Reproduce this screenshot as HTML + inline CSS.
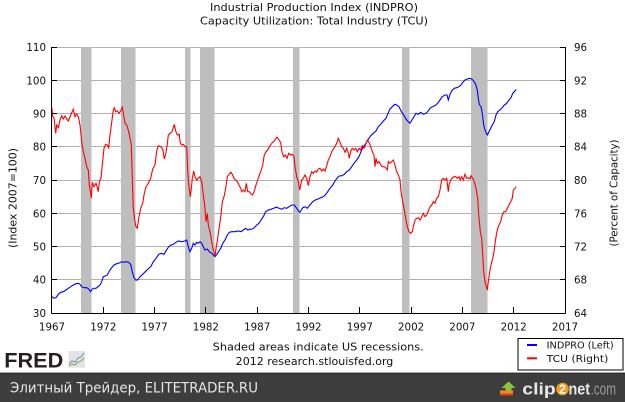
<!DOCTYPE html>
<html>
<head>
<meta charset="utf-8">
<style>
  html, body { margin:0; padding:0; background:#fff; }
  svg { display:block; }
  text { font-family: "DejaVu Sans", "Liberation Sans", "Noto Sans CJK SC", sans-serif; }
</style>
</head>
<body>
<svg width="625" height="402" viewBox="0 0 625 402" xmlns="http://www.w3.org/2000/svg">
  <rect x="0" y="0" width="625" height="402" fill="#ffffff"/>

  <!-- Titles -->
  <text x="314" y="11" font-size="11" text-anchor="middle" fill="#111" textLength="208" lengthAdjust="spacingAndGlyphs">Industrial Production Index (INDPRO)</text>
  <text x="314" y="24.5" font-size="11" text-anchor="middle" fill="#111" textLength="228" lengthAdjust="spacingAndGlyphs">Capacity Utilization: Total Industry (TCU)</text>

  <!-- Gridlines -->
  <g stroke="#b0b0b0" stroke-width="1" shape-rendering="crispEdges">
    <line x1="52" y1="47.5" x2="565" y2="47.5"/>
    <line x1="52" y1="80.5" x2="565" y2="80.5"/>
    <line x1="52" y1="113.5" x2="565" y2="113.5"/>
    <line x1="52" y1="146.5" x2="565" y2="146.5"/>
    <line x1="52" y1="180.5" x2="565" y2="180.5"/>
    <line x1="52" y1="213.5" x2="565" y2="213.5"/>
    <line x1="52" y1="246.5" x2="565" y2="246.5"/>
    <line x1="52" y1="279.5" x2="565" y2="279.5"/>
  </g>

  <!-- Recession bars -->
  <g fill="#bebebe" shape-rendering="crispEdges">
    <rect x="81" y="47" width="10.7" height="266"/>
    <rect x="121" y="47" width="14.7" height="266"/>
    <rect x="185" y="47" width="5.7" height="266"/>
    <rect x="200" y="47" width="14.7" height="266"/>
    <rect x="293" y="47" width="6.7" height="266"/>
    <rect x="402" y="47" width="7.7" height="266"/>
    <rect x="471" y="47" width="16.7" height="266"/>
  </g>

  <!-- Series -->
  <polyline fill="none" stroke="#0000ff" stroke-width="1.1" stroke-linejoin="miter" points="52,296.7 54,298.3 56,297.7 58.3,294.3 60.7,292.3 63.3,291.7 66,290 68.3,288.3 70.7,286.7 73.3,285 76,283.7 78.3,283.3 80,284.3 81.7,286.7 84,287.7 86.7,287.7 88.7,289 90.7,291.7 92,289.3 94,288.3 96,288.3 98,286.7 100,285 101.7,281.7 103.3,276.7 105,276 107.3,275 109.3,271 111.7,267.7 114,265 116.7,263.7 119.3,263 121.7,261.7 124,262.3 126.7,261.7 128.7,262.3 130.7,264.3 132.3,271.7 134,277.7 136,280.3 138,279.7 140,276.7 142.7,274.3 145.3,271.7 148,269 150.7,266.7 153.3,261.7 156,258.3 158.7,254.3 161.3,253.3 164,254.3 166.7,249.7 168.7,246.7 171,245 173.3,244.3 176,242.3 178.3,241 181.7,241.7 185,241 186.7,240 188.3,246.7 190,251.7 191.7,248.3 193.3,243.3 195,245 196.7,242.3 198.3,243.3 200,241.7 201.7,243.3 203.3,246.7 205,250 207.3,249 209.3,251.7 211.7,253.3 213.3,255 215,256.7 216.7,254.3 219,251 221,247.7 222.7,243.3 225,240 227.3,235 229.3,232.3 231.7,231.7 235,231.7 238.3,231 241,231.7 243.3,230 245.7,228.3 247.7,230 250,229.3 252.3,229 254.3,227.7 256.7,225 259,223.3 261,220 263.3,216.7 265.7,211.7 268.3,210 271,209.3 273.7,208.3 276.3,207 279,208.3 281.7,209.3 284.3,207.7 286.7,208.3 289,206.7 291.7,205 294.3,205 296.7,208.3 299,211.7 300,212.3 302.7,207.7 305,206.7 307.3,208.3 310,205 312.7,201.7 315.3,200 318,199 320.7,197.7 323.3,196.7 325.3,195 327.3,192.3 330,188.3 332.7,185 335,181 337.3,177.7 339.3,176 342,175.7 344.3,174.3 346.7,171.7 349.3,170 351.7,166.7 354,163.3 356.7,160 359,156.7 361,151.7 363.3,146.7 366,143.3 368.3,139.3 370.7,135.7 373.3,133.3 376,131 378.3,126.7 380.7,124.3 383.3,121 386,118.3 388,113.3 390,109 392.3,106.7 394.7,104.3 396.7,105 399,106.7 401,111 403.3,114.3 406,119 408.3,121.7 410,123.3 412,120 414,116.7 416,113.3 418.3,114.3 420.7,112.3 423.3,114.3 426,113.3 427.7,111.7 430,108.3 432.3,106.7 435,105.7 437.7,103.3 440,100 442.3,96.7 445,95 447,95 448.3,100 450,94.3 451.7,91 454.3,88.3 456.7,87.7 459,86.7 461,85 462.7,82.3 465,80 467.3,79 469.3,78.3 471.7,79 473.7,81 475.7,84.3 477.3,90 478.3,98.3 479.3,104.3 481,106.7 482.3,113.3 483.7,125 485,130 486.3,133.3 487.3,135 488.7,132.3 490.3,129 492.3,125 494.3,121.7 496,115 497.7,111.7 500,110 502.3,107.7 504.3,105 506.7,103.3 509,100 511,97.7 512.7,93.3 514.3,91.7 516.3,89.3"/>

  <polyline fill="none" stroke="#ff0000" stroke-width="1.1" stroke-linejoin="miter" points="52,108.3 52.7,116.7 54,118 55.7,133.3 56.7,125 58.3,127.7 60,120 61.7,115.7 63.3,119 65,116 66.7,119 68.3,121 70.7,115 73.3,109.3 75,116.7 76.7,114 78.3,116.7 80,125 81.7,141.7 83.3,151.7 85,158.3 86.7,166.7 88.3,170 89.3,185 90.7,193.3 91.3,198.3 92.3,182.3 94,186.7 96,183.3 97.3,187.7 98.3,191.7 99.3,181.7 101,178.3 102.3,165 104,148.3 105.7,144.3 107.3,145 108.7,147.7 110,135 111.7,122.3 113.3,110 114.3,107.7 115.7,111.7 117.3,110.7 119,113.3 120.7,111 122.3,107.3 123.3,113.3 125,123.3 126.7,125 128.3,130 130,137.7 131.3,145 132.3,178.3 133.3,208.3 134.7,220 136,226.7 137.3,228.3 138.7,218.3 140.7,208.3 142.7,203.3 144.3,193.3 146,186.7 148.3,183.3 150.7,178.3 152.7,169 155,165 156.7,151 158.3,145.7 160.7,146.7 162.7,149 164.3,159 165.7,154.3 167.3,144.3 168.3,135 170,133.3 171.7,132.3 173.3,127.7 174.3,124.3 175.7,131 177.3,135 179.3,134.3 180,141.7 181.7,145 183.3,144.3 185,146.7 186.7,146.7 187.7,171.7 189,186.7 190.3,196.7 191,191.7 192.3,178.3 193.7,171 195,176.7 196.7,180 198.3,178.3 200,176.7 201.7,181.7 203.3,195 205,208.3 206,221.7 207.3,213.3 208.3,225 210,231.7 211.7,241.7 213.3,250 215,255.7 216.3,246.7 217.7,238.3 219.3,226.7 221,215 222.3,201.7 224,196.7 225.7,188.3 227.3,176.7 229,174.3 231,172.3 232.3,174.3 234,178.3 235.7,180 237.3,181.7 239,185 240.7,188.3 241.7,191.7 243.3,190 245,191.7 246.3,183.3 247.7,191.7 249.3,191.7 251,194 252.7,195 254.3,191 256,185 257.7,180 259.3,175 261,171 262.7,165 264.3,155 266,151.7 267.7,150 269.3,146.7 271,144.3 272.7,142.3 274.3,141 276,138.3 277.3,137.3 279,140 280.7,142.3 282,152.3 283.7,156.7 285.3,155 287,158.3 288.7,153.3 290.3,155 292.3,154.3 294,156.7 295,166.7 296.7,176.7 298.3,181.7 299.7,190 301.7,180 303.3,178.3 305,175 306.7,178.3 308.3,185.7 310,176.7 311.7,171.7 313.3,173.3 315,171 316.7,172.3 318.3,169 320,168.3 321.7,171 323.3,169 325,171 326.7,165.7 328.3,160 330,156.7 331.7,151.7 333.3,149 335,146.7 336.7,143.3 338.3,138.3 340,142.3 341.7,146.7 343.3,148.3 345,152.3 346.7,148.3 348.3,153.3 349.3,158.3 350.7,151 352.3,148.3 354,150 355.7,148.3 357.3,151.7 359,148.3 360.7,150 362.3,145.7 364,148.3 365.7,144.3 367.3,140 369,142.3 370.7,146.7 372.3,151.7 374,155 375,166.7 376,158.3 377.3,163.3 379,161.7 380.7,165 382.3,166.7 384,166.7 385.7,167.7 387.3,170 388.3,161.7 390,163.3 391.7,161.7 393.3,160 395,165 396.7,171.7 398.3,175 400,180 401,191.7 402.7,201.7 404.3,210 406,220 407.3,226.7 409,231.7 410.7,233.3 412.3,231.7 413.3,226.7 415,220 416.7,218.3 418.3,217.7 420,220 421.7,216.7 423.3,213.3 425,216.7 426.7,215 428.3,211 430,206.7 431.7,205 433.3,201.7 435,203.3 436.7,198.3 438.3,196.7 440,190 441.7,180 443.3,178.3 445,180 446.7,178.3 448.3,191.7 449,185 450.7,180 452.3,178.3 454,176.7 455.7,176.7 457.3,178.3 459,176.7 460.3,180 461.7,176.7 463.3,180 465,174.3 466.7,178.3 468.3,177.7 470,179 471,175.7 472.7,178.3 474.3,181.7 476,188.3 477.7,198.3 478.7,215 479.7,225 480.3,231.7 481.7,238.3 482.7,255 483.7,271.7 485,281.7 486.3,286.7 487.3,290 488.3,281.7 489.7,271.7 491,265 492.7,258.3 494,251.7 495.3,241.7 496.3,235 497.7,228.3 499,225 500.7,221.7 502.3,215 504,211.7 505.7,211.7 507.3,208.3 509,205 510.7,201.7 512.3,198.3 513.3,190 515,188.3 516.3,186.7"/>

  <!-- Axes -->
  <g stroke="#000" stroke-width="1" shape-rendering="crispEdges">
    <line x1="51.5" y1="47" x2="51.5" y2="313.5"/>
    <line x1="51.5" y1="313.5" x2="565.5" y2="313.5"/>
    <line x1="565.5" y1="47" x2="565.5" y2="313.5"/>
    <!-- left ticks -->
    <line x1="52" y1="47.5" x2="57" y2="47.5"/>
    <line x1="52" y1="80.5" x2="57" y2="80.5"/>
    <line x1="52" y1="113.5" x2="57" y2="113.5"/>
    <line x1="52" y1="146.5" x2="57" y2="146.5"/>
    <line x1="52" y1="180.5" x2="57" y2="180.5"/>
    <line x1="52" y1="213.5" x2="57" y2="213.5"/>
    <line x1="52" y1="246.5" x2="57" y2="246.5"/>
    <line x1="52" y1="279.5" x2="57" y2="279.5"/>
    <!-- right ticks -->
    <line x1="560" y1="47.5" x2="565" y2="47.5"/>
    <line x1="560" y1="80.5" x2="565" y2="80.5"/>
    <line x1="560" y1="113.5" x2="565" y2="113.5"/>
    <line x1="560" y1="146.5" x2="565" y2="146.5"/>
    <line x1="560" y1="180.5" x2="565" y2="180.5"/>
    <line x1="560" y1="213.5" x2="565" y2="213.5"/>
    <line x1="560" y1="246.5" x2="565" y2="246.5"/>
    <line x1="560" y1="279.5" x2="565" y2="279.5"/>
    <!-- bottom ticks -->
    <line x1="103.5" y1="307" x2="103.5" y2="313"/>
    <line x1="154.5" y1="307" x2="154.5" y2="313"/>
    <line x1="205.5" y1="307" x2="205.5" y2="313"/>
    <line x1="257.5" y1="307" x2="257.5" y2="313"/>
    <line x1="308.5" y1="307" x2="308.5" y2="313"/>
    <line x1="359.5" y1="307" x2="359.5" y2="313"/>
    <line x1="411.5" y1="307" x2="411.5" y2="313"/>
    <line x1="462.5" y1="307" x2="462.5" y2="313"/>
    <line x1="513.5" y1="307" x2="513.5" y2="313"/>
  </g>

  <!-- Left tick labels -->
  <g font-size="10.3" fill="#111" text-anchor="end">
    <text x="46" y="51">110</text>
    <text x="46" y="84.5">100</text>
    <text x="46" y="117.5">90</text>
    <text x="46" y="150.5">80</text>
    <text x="46" y="184">70</text>
    <text x="46" y="217.5">60</text>
    <text x="46" y="250.5">50</text>
    <text x="46" y="283.5">40</text>
    <text x="46" y="317">30</text>
  </g>

  <!-- Right tick labels -->
  <g font-size="10.3" fill="#111" text-anchor="start">
    <text x="574" y="51">96</text>
    <text x="574" y="84.5">92</text>
    <text x="574" y="117.5">88</text>
    <text x="574" y="150.5">84</text>
    <text x="574" y="184">80</text>
    <text x="574" y="217.5">76</text>
    <text x="574" y="250.5">72</text>
    <text x="574" y="283.5">68</text>
    <text x="574" y="317">64</text>
  </g>

  <!-- X labels -->
  <g font-size="10.3" fill="#111" text-anchor="middle">
    <text x="52" y="330.5">1967</text>
    <text x="103.3" y="330.5">1972</text>
    <text x="154.6" y="330.5">1977</text>
    <text x="205.9" y="330.5">1982</text>
    <text x="257.2" y="330.5">1987</text>
    <text x="308.5" y="330.5">1992</text>
    <text x="359.8" y="330.5">1997</text>
    <text x="411.1" y="330.5">2002</text>
    <text x="462.4" y="330.5">2007</text>
    <text x="513.7" y="330.5">2012</text>
    <text x="565" y="330.5">2017</text>
  </g>

  <!-- Axis titles -->
  <text transform="translate(16.5,198) rotate(-90)" font-size="10.5" fill="#111" text-anchor="middle" textLength="100" lengthAdjust="spacingAndGlyphs">(Index 2007=100)</text>
  <text transform="translate(617.5,193) rotate(-90)" font-size="10.5" fill="#111" text-anchor="middle" textLength="107" lengthAdjust="spacingAndGlyphs">(Percent of Capacity)</text>

  <!-- Footer notes -->
  <text x="212.7" y="350.5" font-size="10.5" fill="#111" textLength="211" lengthAdjust="spacingAndGlyphs">Shaded areas indicate US recessions.</text>
  <text x="235.7" y="365" font-size="10.5" fill="#111" textLength="157.6" lengthAdjust="spacingAndGlyphs">2012 research.stlouisfed.org</text>

  <!-- Legend -->
  <rect x="518" y="338.5" width="105" height="31.5" fill="#fff" stroke="#000" stroke-width="1" shape-rendering="crispEdges"/>
  <line x1="527" y1="345" x2="537" y2="345" stroke="#0000ff" stroke-width="2"/>
  <line x1="527" y1="358.3" x2="537" y2="358.3" stroke="#ff0000" stroke-width="2"/>
  <text x="546.7" y="348.5" font-size="9.5" fill="#111" textLength="67" lengthAdjust="spacingAndGlyphs">INDPRO (Left)</text>
  <text x="546.7" y="361.8" font-size="9.5" fill="#111" textLength="61.6" lengthAdjust="spacingAndGlyphs">TCU (Right)</text>

  <!-- FRED logo -->
  <text x="4.3" y="367.5" font-family="Liberation Sans, sans-serif" font-weight="900" font-size="21" fill="#231f20" textLength="59" lengthAdjust="spacingAndGlyphs" style="font-family:'Liberation Sans',sans-serif;font-weight:bold">FRED</text>
  <rect x="68.3" y="351" width="16.7" height="16.7" fill="#e4e4e4"/>
  <polyline fill="none" stroke="#6a8fc8" stroke-width="1" points="69,364 72,361 75,362 78,358 81,357 84,353"/>
  <polyline fill="none" stroke="#7aa84a" stroke-width="1" points="69,366 72,364 75,365 78,362 81,361 84,358"/>

  <!-- Bottom band -->
  <rect x="0" y="372.7" width="625" height="29.3" fill="#3d3d3d"/>
  <rect x="0" y="372.7" width="625" height="1" fill="#2c2c2c"/>
  <text x="10" y="392.5" font-size="14" fill="#e6e6e6" textLength="248" lengthAdjust="spacingAndGlyphs">Элитный Трейдер, ELITETRADER.RU</text>

  <!-- clip2net logo -->
  <polygon points="508.5,381.5 501.5,388 505.5,388 505.5,392 511.5,392 511.5,388 515.5,388" fill="#8cc63f"/>
  <rect x="500" y="390.5" width="13" height="5" fill="#f08a1c"/>
  <rect x="500" y="393.5" width="13" height="2" fill="#d9401e"/>
  <text x="522.3" y="394.5" font-family="Liberation Sans, sans-serif" font-weight="bold" font-size="17" fill="#e8e8e8" textLength="33.5" lengthAdjust="spacingAndGlyphs" style="font-family:'Liberation Sans',sans-serif">clip</text>
  <circle cx="562.5" cy="389" r="6.3" fill="#f39a1d"/>
  <text x="562.5" y="393.5" font-family="Liberation Sans, sans-serif" font-weight="bold" font-size="12.5" fill="#ffffff" text-anchor="middle" style="font-family:'Liberation Sans',sans-serif">2</text>
  <text x="568.5" y="394.5" font-family="Liberation Sans, sans-serif" font-weight="bold" font-size="17" fill="#e8e8e8" textLength="21.5" lengthAdjust="spacingAndGlyphs" style="font-family:'Liberation Sans',sans-serif">net</text>
  <text x="590.5" y="394.5" font-family="Liberation Sans, sans-serif" font-size="17" fill="#9a9a9a" textLength="25.5" lengthAdjust="spacingAndGlyphs" style="font-family:'Liberation Sans',sans-serif">.com</text>
</svg>
</body>
</html>
